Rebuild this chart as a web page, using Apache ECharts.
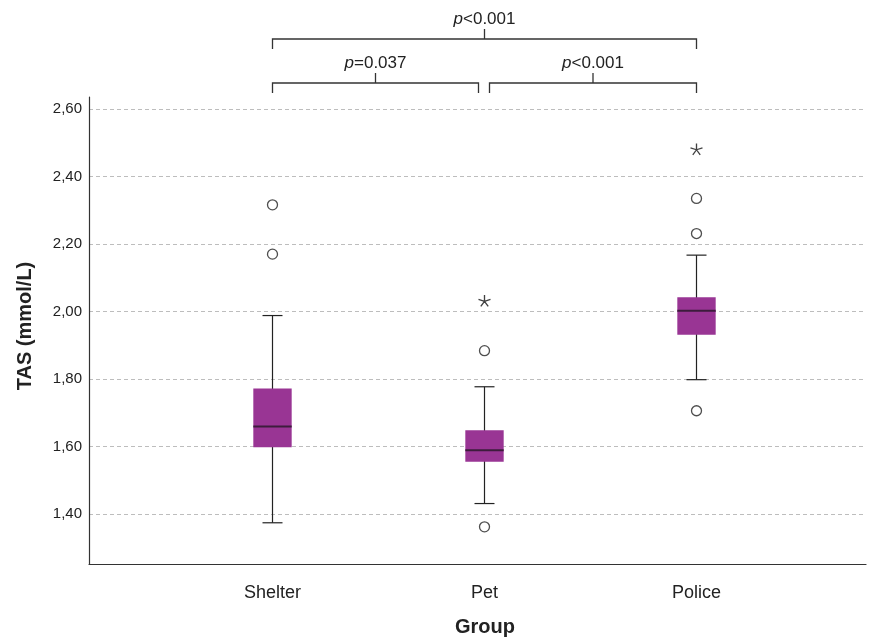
<!DOCTYPE html>
<html>
<head>
<meta charset="utf-8">
<script src="https://cdn.jsdelivr.net/npm/echarts@6/dist/echarts.min.js"></script>
<style>html,body{margin:0;padding:0;background:#fff;}#c{width:880px;height:638px;}</style>
</head>
<body>
<div id="c"></div>
<script>
// ---- data ----
const categories = ['Shelter', 'Pet', 'Police'];
const lowWhisker = [1.374, 1.431, 1.798];
const q1 = [1.598, 1.555, 1.931];
const median = [1.659, 1.589, 2.002];
const q3 = [1.772, 1.648, 2.042];
const highWhisker = [1.988, 1.777, 2.167];
const outliers = [[0, 2.316], [0, 2.170], [1, 1.884], [1, 1.362], [2, 2.335], [2, 2.231], [2, 1.706]];
const extremes = [[1, 2.032], [2, 2.481]];
const yTicks = [1.4, 2.6, 0.2]; // min, max, interval
const comparisons = [
  { from: 0, to: 1, p: '=0.037', level: 1 },
  { from: 1, to: 2, p: '<0.001', level: 1 },
  { from: 0, to: 2, p: '<0.001', level: 0 }
];

const boxData = categories.map((c, i) => [i, lowWhisker[i], q1[i], median[i], q3[i], highWhisker[i]]);

const FONT = '"Liberation Sans", Arial, sans-serif';
const chart = echarts.init(document.getElementById('c'), null, { renderer: 'canvas' });

const starPath = 'path://M0,0L0,-1M0,0L0.951,-0.309M0,0L0.588,0.809M0,0L-0.588,0.809M0,0L-0.951,-0.309';

chart.setOption({
  animation: false,
  backgroundColor: '#fff',
  grid: [
    { left: 89, right: 14, top: 97, bottom: 74 },
    { left: 89, right: 14, top: 109, bottom: 124 },
    { left: 166.5, right: 77.5, top: 109, bottom: 124 }
  ],
  xAxis: [
    { gridIndex: 0, type: 'value', min: 0, max: 1, axisLine: { show: true, onZero: false, lineStyle: { color: '#333', width: 1.2 } }, axisTick: { show: false }, axisLabel: { show: false }, splitLine: { show: false } },
    { gridIndex: 1, type: 'value', min: 0, max: 1, show: false },
    { gridIndex: 2, type: 'category', data: categories, boundaryGap: true,
      axisLine: { show: false }, axisTick: { show: false },
      axisLabel: { margin: 70, fontSize: 18, color: '#222', fontFamily: FONT } }
  ],
  yAxis: [
    { gridIndex: 0, type: 'value', min: 0, max: 1, axisLine: { show: true, onZero: false, lineStyle: { color: '#333', width: 1.2 } }, axisTick: { show: false }, axisLabel: { show: false }, splitLine: { show: false } },
    { gridIndex: 1, type: 'value', min: yTicks[0], max: yTicks[1], interval: yTicks[2],
      axisLine: { show: false }, axisTick: { show: false },
      axisLabel: { margin: 7, fontSize: 15, color: '#222', fontFamily: FONT, formatter: v => v.toFixed(2).replace('.', ',') },
      splitLine: { show: true, lineStyle: { color: '#bdbdbd', type: [4, 3], width: 1 } } },
    { gridIndex: 2, type: 'value', min: yTicks[0], max: yTicks[1], show: false }
  ],
  series: [
    {
      type: 'custom', xAxisIndex: 2, yAxisIndex: 2, clip: false,
      data: boxData,
      renderItem: function (params, api) {
        const x = api.coord([api.value(0), api.value(3)])[0];
        const yl = api.coord([api.value(0), api.value(1)])[1];
        const y1 = api.coord([api.value(0), api.value(2)])[1];
        const ym = api.coord([api.value(0), api.value(3)])[1];
        const y3 = api.coord([api.value(0), api.value(4)])[1];
        const yh = api.coord([api.value(0), api.value(5)])[1];
        const band = api.size([1, 0])[0];
        const hw = band * 0.0905, cw = 10;
        const ls = { stroke: '#222', lineWidth: 1.2 };
        return {
          type: 'group',
          children: [
            { type: 'line', shape: { x1: x, y1: yl, x2: x, y2: yh }, style: ls },
            { type: 'line', shape: { x1: x - cw, y1: yl, x2: x + cw, y2: yl }, style: ls },
            { type: 'line', shape: { x1: x - cw, y1: yh, x2: x + cw, y2: yh }, style: ls },
            { type: 'rect', shape: { x: x - hw, y: y3, width: hw * 2, height: y1 - y3 }, style: { fill: '#993594', stroke: null } },
            { type: 'line', shape: { x1: x - hw, y1: ym, x2: x + hw, y2: ym }, style: { stroke: '#3d1c3c', lineWidth: 2 } }
          ]
        };
      }
    },
    {
      type: 'scatter', xAxisIndex: 2, yAxisIndex: 2, clip: false,
      data: outliers, symbol: 'circle', symbolSize: 10,
      itemStyle: { color: '#fff', borderColor: '#222', borderWidth: 1.3 }
    },
    {
      type: 'scatter', xAxisIndex: 2, yAxisIndex: 2, clip: false,
      data: extremes, symbol: starPath, symbolSize: [12, 11.4],
      itemStyle: { color: 'transparent', borderColor: '#111', borderWidth: 1.3 }
    }
  ]
});

// significance brackets (positioned from the category axis)
const levelY = [39, 83];
const g = [];
comparisons.forEach(c => {
  let xa = chart.convertToPixel({ xAxisIndex: 2 }, c.from);
  let xb = chart.convertToPixel({ xAxisIndex: 2 }, c.to);
  if (c.level === 1) {
    if (c.from === 1) xa += 5; else xb -= 6;
  }
  const y = levelY[c.level];
  const xm = (xa + xb) / 2;
  const st = { stroke: '#333', lineWidth: 1.3 };
  g.push({ type: 'polyline', shape: { points: [[xa, y + 10], [xa, y], [xb, y], [xb, y + 10]] }, style: Object.assign({ fill: null }, st) });
  g.push({ type: 'line', shape: { x1: xm, y1: y, x2: xm, y2: y - 10 }, style: st });
  g.push({ type: 'text', x: xm, y: y - 20, style: {
    text: '{i|p}' + c.p, textAlign: 'center', textVerticalAlign: 'middle',
    font: '17px ' + FONT, fill: '#222',
    rich: { i: { fontStyle: 'italic', fontSize: 17, fontFamily: FONT, fill: '#222' } }
  } });
});
g.push({ type: 'text', x: 485, y: 627, style: { text: 'Group', textAlign: 'center', textVerticalAlign: 'middle', font: 'bold 20px ' + FONT, fill: '#222' } });
g.push({ type: 'text', x: 25, y: 326, rotation: Math.PI / 2, style: { text: 'TAS (mmol/L)', textAlign: 'center', textVerticalAlign: 'middle', font: 'bold 20px ' + FONT, fill: '#222' } });
chart.setOption({ graphic: g });
</script>
</body>
</html>
